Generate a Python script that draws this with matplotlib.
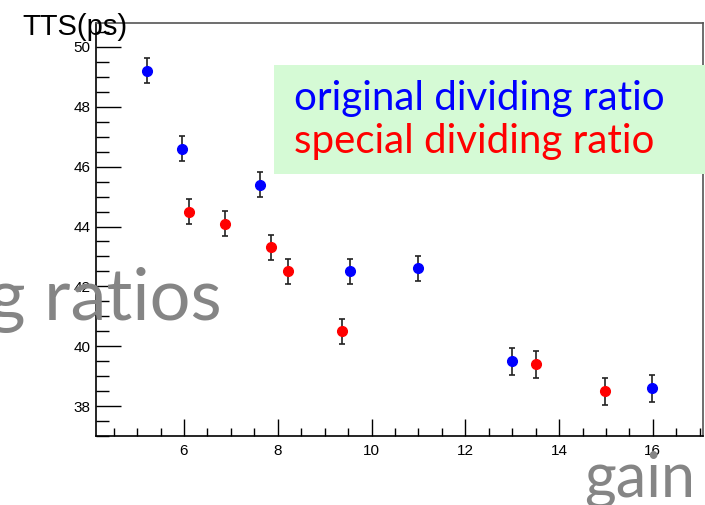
import numpy as np
import matplotlib
matplotlib.use('Agg')
import matplotlib.pyplot as plt
from matplotlib.patches import Rectangle
from matplotlib.ticker import MultipleLocator

plt.rcParams['font.family'] = ['Liberation Sans', 'DejaVu Sans']

# original dividing ratio (blue)
gain_orig = [5.21, 5.95, 7.62, 9.55, 11.0, 12.99, 15.99]
tts_orig = [49.2, 46.6, 45.4, 42.5, 42.6, 39.5, 38.6]
err_orig = [0.42, 0.42, 0.42, 0.42, 0.42, 0.45, 0.45]

# special dividing ratio (red)
gain_spec = [6.11, 6.87, 7.85, 8.22, 9.36, 13.5, 14.99]
tts_spec = [44.5, 44.1, 43.3, 42.5, 40.5, 39.4, 38.5]
err_spec = [0.42, 0.42, 0.42, 0.42, 0.42, 0.45, 0.45]

fig = plt.figure(figsize=(7.05, 5.05), dpi=100)
ax = fig.add_axes([96/705, 1-436/505, 607/705, 413/505])

ax.errorbar(gain_orig, tts_orig, yerr=err_orig, fmt='o', color='blue',
            ecolor='#222222', elinewidth=1.2, capsize=2, capthick=1.2,
            markersize=7, zorder=3)
ax.errorbar(gain_spec, tts_spec, yerr=err_spec, fmt='o', color='red',
            ecolor='#222222', elinewidth=1.2, capsize=2, capthick=1.2,
            markersize=7, zorder=3)

ax.set_xlim(4.124, 17.07)
ax.set_ylim(37.0, 50.8)
ax.xaxis.set_major_locator(MultipleLocator(2))
ax.xaxis.set_minor_locator(MultipleLocator(0.5))
ax.yaxis.set_major_locator(MultipleLocator(2))
ax.yaxis.set_minor_locator(MultipleLocator(0.5))
ax.tick_params(axis='x', which='major', direction='in', length=12, width=1,
               labelsize=11, pad=6)
ax.tick_params(axis='x', which='minor', direction='in', length=6, width=1)
ax.tick_params(axis='y', which='major', direction='in', length=18, width=1,
               labelsize=11, pad=4)
ax.tick_params(axis='y', which='minor', direction='in', length=9, width=1)
for side in ['top', 'right']:
    ax.spines[side].set_color('#555555')
for sp in ax.spines.values():
    sp.set_linewidth(1.2)

# legend box
fig.add_artist(Rectangle((274/705, 1-174/505), 431/705, 109/505,
                         transform=fig.transFigure, facecolor='#d5fad5',
                         edgecolor='none', zorder=5))
fig.text(294/705, 1-110/505, 'original dividing ratio', color='blue',
         fontsize=29, family='Lato', va='baseline', ha='left', zorder=6)
fig.text(294/705, 1-153/505, 'special dividing ratio', color='red',
         fontsize=29, family='Lato', va='baseline', ha='left', zorder=6)

# overlaid slide text
fig.text(22/705, 1-35/505, 'TTS(ps)', color='black', fontsize=21,
         va='baseline', ha='left', zorder=6)
fig.text(222/705, 1-320/505, 'g ratios', color='#858585', fontsize=52,
         family='Lato', va='baseline', ha='right', zorder=6)
fig.text(695/705, 1-496/505, 'gain', color='#858585', fontsize=44,
         family='Lato', va='baseline', ha='right', zorder=6)

fig.savefig('out.png', dpi=100)
